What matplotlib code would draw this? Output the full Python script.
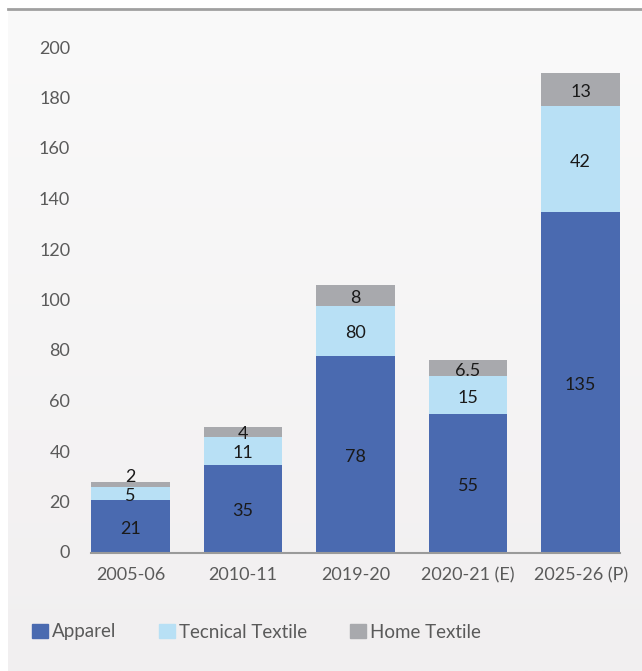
import numpy as np
import matplotlib.pyplot as plt
from matplotlib.colors import LinearSegmentedColormap
from matplotlib.lines import Line2D
from matplotlib.patches import Patch
from matplotlib.transforms import ScaledTranslation

plt.rcParams['font.family'] = ['Lato', 'DejaVu Sans']

years = ['2005-06', '2010-11', '2019-20', '2020-21 (E)', '2025-26 (P)']
apparel = [21, 35, 78, 55, 135]
tecnical = [5, 11, 20, 15, 42]
home = [2, 4, 8, 6.5, 13]
# labels as printed on the chart
apparel_lbl = ['21', '35', '78', '55', '135']
tecnical_lbl = ['5', '11', '80', '15', '42']
home_lbl = ['2', '4', '8', '6.5', '13']

c_app = '#4a6ab0'
c_tec = '#b8e0f5'
c_home = '#a8a9ad'
grey_txt = '#5a5a5a'
lbl_col = '#1a1a1a'

fig = plt.figure(figsize=(6.42, 6.71), dpi=100)

# background panel with a soft vertical gradient
bg = fig.add_axes([8 / 642, 0, 634 / 642, 662 / 671])
grad = np.linspace(0, 1, 256).reshape(-1, 1)
bg.imshow(grad, aspect='auto', extent=[0, 1, 0, 1], origin='upper',
          cmap=LinearSegmentedColormap.from_list('bg', ['#fafafa', '#f1eff0']))
bg.axis('off')
fig.add_artist(Line2D([8 / 642, 1], [662 / 671, 662 / 671], color='#a0a0a0', lw=2))

ax = fig.add_axes([91 / 642, 118 / 671, 529 / 642, 505 / 671])
ax.set_facecolor('none')

x = np.arange(len(years))
w = 0.70
ax.bar(x, apparel, w, color=c_app)
ax.bar(x, tecnical, w, bottom=apparel, color=c_tec)
bot3 = np.array(apparel) + np.array(tecnical)
ax.bar(x, home, w, bottom=bot3, color=c_home)

for i in range(len(x)):
    ax.text(x[i], apparel[i] / 2 - 1, apparel_lbl[i], ha='center', va='center', fontsize=13, color=lbl_col)
    ax.text(x[i], apparel[i] + tecnical[i] / 2 - 1, tecnical_lbl[i], ha='center', va='center', fontsize=13, color=lbl_col)
    yh = bot3[i] + home[i] / 2 - 1 if home[i] > 3 else bot3[i] + home[i] + 2
    ax.text(x[i], yh, home_lbl[i], ha='center', va='center', fontsize=13, color=lbl_col)

ax.set_xlim(-0.35, 4.35)
ax.set_ylim(0, 200)
ax.set_yticks(np.arange(0, 201, 20))
ax.set_xticks(x)
ax.set_xticklabels(years)
ax.tick_params(axis='both', length=0, labelsize=13, labelcolor=grey_txt)
ax.tick_params(axis='y', pad=15)
ax.tick_params(axis='x', pad=10)
for lab in ax.get_yticklabels():
    lab.set_transform(lab.get_transform() + ScaledTranslation(0, 0.01, fig.dpi_scale_trans))
for s in ['top', 'right', 'left']:
    ax.spines[s].set_visible(False)
ax.spines['bottom'].set_color('#9a9a9a')
ax.spines['bottom'].set_linewidth(1.5)

handles = [Patch(color=c_app), Patch(color=c_tec), Patch(color=c_home)]
fig.legend(handles, ['Apparel', 'Tecnical Textile', 'Home Textile'], ncol=3,
           loc='center left', bbox_to_anchor=(15 / 642, 1 - 632 / 671), frameon=False,
           fontsize=13.5, labelcolor=grey_txt, handlelength=0.85, handleheight=0.85,
           handletextpad=0.2, columnspacing=2.3)

fig.savefig('out.png', dpi=100)
